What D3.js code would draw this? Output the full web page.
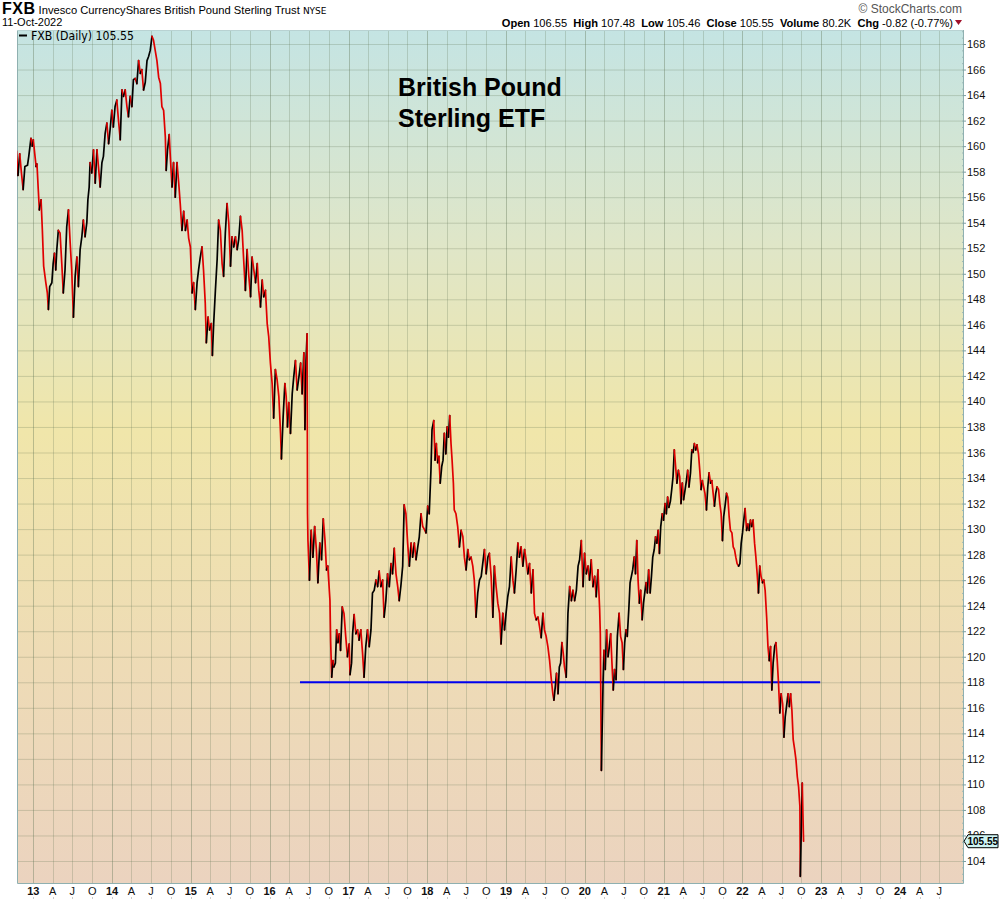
<!DOCTYPE html>
<html><head><meta charset="utf-8">
<script src="https://cdn.jsdelivr.net/npm/d3@7"></script>
<style>body{margin:0;background:#fff;} svg{display:block;font-family:"Liberation Sans",Arial,sans-serif;}</style>
</head><body><svg id="c" width="1000" height="900"></svg>
<script>
// ---- data ----
const dates = [
"2012-289","2012-296","2012-304","2012-312","2012-320","2012-328","2012-340","2012-346","2012-356","2012-362",
"2013-001","2013-009","2013-014","2013-018","2013-024","2013-029","2013-037","2013-043","2013-049","2013-059","2013-066","2013-071","2013-077","2013-087","2013-093","2013-099","2013-105","2013-110","2013-117","2013-125","2013-133","2013-140","2013-148","2013-156","2013-164","2013-172","2013-179","2013-187","2013-195","2013-203","2013-210","2013-218","2013-226","2013-233","2013-241","2013-249","2013-254","2013-260","2013-264","2013-272","2013-280","2013-288","2013-296","2013-303","2013-311","2013-319","2013-326","2013-334","2013-342","2013-350","2013-357","2013-365",
"2014-007","2014-015","2014-023","2014-031","2014-039","2014-047","2014-054","2014-062","2014-070","2014-077","2014-085","2014-093","2014-100","2014-108","2014-116","2014-124","2014-132","2014-139","2014-147","2014-155","2014-163","2014-170","2014-178","2014-186","2014-193","2014-201","2014-209","2014-217","2014-225","2014-232","2014-240","2014-248","2014-252","2014-258","2014-266","2014-271","2014-279","2014-286","2014-294","2014-302","2014-310","2014-317","2014-325","2014-333","2014-341","2014-349","2014-356","2014-364",
"2015-007","2015-014","2015-022","2015-030","2015-037","2015-045","2015-053","2015-060","2015-068","2015-073","2015-081","2015-088","2015-096","2015-101","2015-107","2015-115","2015-123","2015-130","2015-138","2015-146","2015-153","2015-161","2015-169","2015-177","2015-185","2015-192","2015-200","2015-208","2015-216","2015-223","2015-231","2015-239","2015-246","2015-254","2015-262","2015-270","2015-278","2015-285","2015-293","2015-301","2015-309","2015-316","2015-324","2015-332","2015-339","2015-347","2015-355","2015-362",
"2016-005","2016-013","2016-020","2016-028","2016-036","2016-044","2016-052","2016-056","2016-064","2016-072","2016-078","2016-084","2016-090","2016-098","2016-106","2016-113","2016-121","2016-129","2016-137","2016-145","2016-152","2016-160","2016-165","2016-170","2016-175","2016-177","2016-179","2016-186","2016-194","2016-202","2016-210","2016-218","2016-225","2016-234","2016-242","2016-250","2016-258","2016-265","2016-271","2016-281","2016-284","2016-289","2016-295","2016-299","2016-306","2016-312","2016-318","2016-324","2016-330","2016-338","2016-346","2016-354","2016-362",
"2017-004","2017-008","2017-015","2017-020","2017-027","2017-035","2017-043","2017-050","2017-058","2017-066","2017-073","2017-081","2017-089","2017-097","2017-105","2017-112","2017-120","2017-128","2017-136","2017-143","2017-151","2017-159","2017-166","2017-174","2017-182","2017-190","2017-198","2017-205","2017-213","2017-221","2017-229","2017-236","2017-244","2017-252","2017-259","2017-267","2017-275","2017-283","2017-291","2017-298","2017-306","2017-314","2017-322","2017-329","2017-337","2017-345","2017-352","2017-360",
"2018-003","2018-010","2018-018","2018-023","2018-031","2018-037","2018-043","2018-049","2018-055","2018-061","2018-068","2018-074","2018-080","2018-087","2018-093","2018-099","2018-105","2018-111","2018-116","2018-122","2018-126","2018-134","2018-142","2018-150","2018-158","2018-166","2018-173","2018-181","2018-189","2018-196","2018-204","2018-212","2018-219","2018-227","2018-235","2018-243","2018-251","2018-258","2018-266","2018-274","2018-282","2018-289","2018-297","2018-305","2018-312","2018-320","2018-328","2018-336","2018-343","2018-351","2018-359",
"2019-001","2019-009","2019-017","2019-025","2019-033","2019-040","2019-048","2019-056","2019-063","2019-071","2019-079","2019-087","2019-094","2019-102","2019-110","2019-118","2019-126","2019-133","2019-141","2019-149","2019-156","2019-164","2019-172","2019-179","2019-187","2019-195","2019-203","2019-211","2019-218","2019-223","2019-229","2019-235","2019-242","2019-248","2019-254","2019-260","2019-266","2019-272","2019-280","2019-288","2019-296","2019-304","2019-311","2019-319","2019-327","2019-335","2019-342","2019-350","2019-358","2019-365",
"2020-008","2020-016","2020-023","2020-031","2020-039","2020-047","2020-054","2020-062","2020-070","2020-073","2020-078","2020-086","2020-090","2020-096","2020-102","2020-109","2020-115","2020-121","2020-127","2020-133","2020-139","2020-146","2020-152","2020-160","2020-167","2020-174","2020-180","2020-186","2020-192","2020-198","2020-205","2020-211","2020-217","2020-223","2020-230","2020-236","2020-242","2020-248","2020-254","2020-260","2020-267","2020-273","2020-279","2020-285","2020-291","2020-297","2020-304","2020-310","2020-316","2020-323","2020-329","2020-335","2020-341","2020-347","2020-353","2020-360","2020-366",
"2021-007","2021-013","2021-019","2021-025","2021-032","2021-038","2021-044","2021-050","2021-056","2021-062","2021-069","2021-075","2021-081","2021-087","2021-093","2021-100","2021-106","2021-112","2021-118","2021-125","2021-131","2021-137","2021-143","2021-149","2021-155","2021-162","2021-168","2021-174","2021-180","2021-186","2021-192","2021-199","2021-205","2021-211","2021-218","2021-224","2021-230","2021-236","2021-242","2021-248","2021-255","2021-261","2021-267","2021-273","2021-279","2021-285","2021-292","2021-298","2021-304","2021-310","2021-317","2021-323","2021-329","2021-335","2021-341","2021-348","2021-354","2021-360",
"2022-001","2022-007","2022-013","2022-020","2022-026","2022-032","2022-038","2022-044","2022-050","2022-057","2022-063","2022-069","2022-075","2022-081","2022-087","2022-094","2022-100","2022-106","2022-113","2022-119","2022-125","2022-131","2022-137","2022-143","2022-150","2022-156","2022-162","2022-168","2022-174","2022-180","2022-187","2022-193","2022-199","2022-205","2022-212","2022-218","2022-224","2022-230","2022-236","2022-243","2022-249","2022-255","2022-261","2022-267","2022-269","2022-278","2022-281","2022-284"
];
const closes = [
159.6,157.7,159.4,157.9,156.6,158.4,158.5,159.2,160.6,160.0,
160.5,159.2,158.4,158.6,156.6,155.0,155.8,153.4,150.6,149.3,148.5,147.2,149.0,149.3,150.8,151.6,150.3,151.9,153.4,153.2,150.8,148.5,150.3,153.7,155.0,152.4,150.3,146.6,149.8,151.3,149.0,151.9,152.9,154.2,152.9,154.0,155.8,156.8,158.7,157.9,159.7,157.1,159.7,158.4,156.8,158.7,159.2,161.0,161.8,160.2,161.3,162.8,
161.5,163.1,163.6,162.0,160.5,164.4,163.9,164.4,163.1,162.3,163.9,163.1,165.2,165.3,164.9,166.7,165.7,166.0,164.4,165.0,166.7,167.0,167.5,168.6,168.3,167.5,166.7,165.4,164.9,163.1,162.8,160.7,158.1,159.7,160.9,159.2,156.8,158.7,156.0,158.7,157.1,155.5,153.4,154.9,153.4,154.2,152.8,152.1,
148.5,149.3,147.2,149.3,150.3,151.3,152.1,150.3,147.7,144.6,146.6,145.6,146.1,143.6,146.1,148.7,151.1,154.2,153.4,150.8,149.8,153.2,155.5,154.0,150.6,152.9,152.1,152.9,151.9,152.7,154.5,153.4,151.1,148.7,151.9,149.8,148.2,151.3,150.3,149.3,150.8,148.7,147.4,149.5,148.2,148.7,146.1,145.1,
143.0,141.4,138.7,142.5,141.7,140.4,137.5,135.5,138.8,141.4,140.4,138.0,139.9,137.5,140.6,141.9,143.2,140.9,141.9,143.0,140.6,143.8,137.8,143.2,145.3,131.2,129.1,126.0,129.9,127.8,130.2,128.4,125.8,128.9,127.6,130.8,129.1,126.8,127.1,124.4,121.3,118.4,119.7,119.2,119.5,122.1,121.1,121.8,120.5,123.9,123.4,121.6,120.0,
121.0,118.6,119.5,121.8,123.3,121.8,122.1,121.3,122.1,120.3,118.4,120.8,122.1,120.8,122.1,125.0,125.2,126.0,125.5,126.7,125.5,126.0,123.1,124.4,126.5,125.5,127.3,126.5,128.5,126.5,125.5,124.4,125.6,127.1,131.9,131.2,128.9,127.1,128.9,127.8,128.9,127.6,128.6,129.4,131.2,130.2,130.0,129.7,
131.8,131.2,134.6,137.8,138.5,135.4,136.7,135.2,135.7,133.6,134.9,135.4,137.5,135.9,138.0,137.2,138.9,136.7,135.4,133.6,131.5,131.2,130.2,128.6,129.9,129.4,127.8,126.8,128.4,127.6,127.8,127.1,126.0,123.1,125.0,126.0,126.3,127.3,128.4,126.5,127.8,128.1,126.3,123.1,127.1,125.5,124.2,123.4,121.0,123.4,122.1,
123.4,124.7,125.5,127.8,126.0,125.0,126.8,128.9,127.8,128.6,127.1,128.4,127.6,126.5,127.3,125.0,126.8,123.4,122.9,123.1,122.4,121.5,123.4,122.1,121.6,120.8,119.7,118.2,117.1,116.6,117.6,118.7,117.1,119.2,119.5,121.1,120.3,119.2,118.4,123.4,125.5,124.4,125.2,124.4,125.2,127.1,127.6,129.1,125.5,128.1,
126.5,127.1,126.0,127.6,125.5,126.3,124.7,126.8,123.7,121.8,111.1,118.2,120.5,119.0,122.1,120.0,120.8,121.8,119.5,117.4,119.0,118.2,121.6,123.4,121.6,121.1,119.0,121.1,122.1,121.6,123.7,125.8,126.3,126.8,127.8,126.5,129.1,126.0,124.2,125.2,122.9,124.2,125.0,125.8,125.0,126.8,125.0,126.3,127.8,128.4,129.4,128.9,129.9,128.1,130.2,131.2,130.7,
132.0,131.2,132.5,131.7,132.2,133.1,134.1,136.2,134.9,133.6,134.6,134.1,132.0,133.6,132.3,133.1,133.8,134.6,133.3,134.4,136.2,136.0,136.7,136.2,136.6,135.9,134.6,133.1,133.8,133.3,132.8,131.5,133.3,134.4,133.6,133.8,132.8,131.8,132.8,133.3,133.1,132.0,131.2,129.1,131.0,131.8,132.8,132.5,131.0,129.9,129.7,128.6,128.4,127.8,127.3,127.1,127.3,128.9,
129.7,130.7,131.6,129.9,130.4,129.9,130.7,130.2,130.7,128.9,127.8,126.5,125.0,127.1,126.3,125.8,126.0,125.2,123.1,120.8,119.7,120.8,117.4,119.5,120.8,121.1,119.7,117.9,115.6,117.1,116.3,113.7,115.3,116.1,117.1,116.1,117.1,115.8,113.5,112.7,111.9,110.6,109.8,108.3,102.8,110.1,107.7,105.55
];
const yTickValues = d3.range(104, 169, 2);
const quarterLetters = {3: "A", 6: "J", 9: "O"};
const supportLevel = 118;
const supportFrom = "2016-05-21", supportTo = "2022-12-27";
const titleLines = ["British Pound", "Sterling ETF"];
const lastClose = 105.55;
const quote = [["Open","106.55"],["High","107.48"],["Low","105.46"],["Close","105.55"],["Volume","80.2K"],["Chg","-0.82 (-0.77%)"]];

// ---- layout ----
const svg = d3.select("#c");
const P = {left: 17, right: 963, top: 30, bottom: 883};
const parse = d3.timeParse("%Y-%j");
const data = dates.map((d, i) => ({date: parse(d), v: closes[i]}));

const x = d3.scaleTime()
  .domain([new Date(2013, 0, 1), new Date(2024, 0, 1)])
  .range([33.3, 900]);
const y = d3.scaleLinear().domain([104, 168]).range([861, 44]);

// background gradient
const defs = svg.append("defs");
const g = defs.append("linearGradient").attr("id", "bg")
  .attr("x1", 0).attr("y1", 0).attr("x2", 0).attr("y2", 1);
[[0, "#c4e4e3"], [0.25, "#dfe6c8"], [0.47, "#f0e6aa"], [0.75, "#eedbb6"], [1, "#ebd3bf"]]
  .forEach(([o, c]) => g.append("stop").attr("offset", o).attr("stop-color", c));
defs.append("clipPath").attr("id", "clip").append("rect")
  .attr("x", P.left).attr("y", P.top).attr("width", P.right - P.left).attr("height", P.bottom - P.top);

svg.append("rect").attr("x", P.left).attr("y", P.top)
  .attr("width", P.right - P.left).attr("height", P.bottom - P.top).attr("fill", "url(#bg)");

// grid
const grid = svg.append("g").attr("clip-path", "url(#clip)");
grid.selectAll("line.h").data(yTickValues).join("line")
  .attr("x1", P.left).attr("x2", P.right)
  .attr("y1", d => y(d) + 0.5).attr("y2", d => y(d) + 0.5)
  .attr("stroke", "rgba(95,115,85,0.25)").attr("stroke-width", 1);
const quarters = d3.timeMonth.every(3).range(new Date(2012, 9, 1), new Date(2024, 7, 1))
  .filter(d => x(d) > P.left && x(d) < P.right);
grid.selectAll("line.v").data(quarters).join("line")
  .attr("x1", d => Math.round(x(d)) + 0.5).attr("x2", d => Math.round(x(d)) + 0.5)
  .attr("y1", P.top).attr("y2", P.bottom)
  .attr("stroke", d => d.getMonth() === 0 ? "rgba(95,115,85,0.38)" : "rgba(95,115,85,0.25)")
  .attr("stroke-width", 1);

// frame
svg.append("path")
  .attr("d", `M${P.left + 0.5},${P.top}V${P.bottom + 0.5}H${P.right + 0.5}V${P.top}`)
  .attr("fill", "none").attr("stroke", "#8fb0b0").attr("stroke-width", 1);
svg.append("line").attr("x1", P.left).attr("x2", P.right).attr("y1", P.top + 0.5).attr("y2", P.top + 0.5)
  .attr("stroke", "#b8d2d2");

// right axis
const ax = svg.append("g");
ax.selectAll("line.t").data(yTickValues).join("line")
  .attr("x1", P.right).attr("x2", P.right + 3)
  .attr("y1", d => y(d) + 0.5).attr("y2", d => y(d) + 0.5).attr("stroke", "#7d9f9f");
ax.selectAll("line.m").data(d3.range(102.5, 169.5, 0.5)).join("line")
  .attr("x1", P.right - 1).attr("x2", P.right)
  .attr("y1", d => y(d) + 0.5).attr("y2", d => y(d) + 0.5).attr("stroke", "#9fb9b9");
ax.selectAll("text").data(yTickValues).join("text")
  .attr("x", P.right + 4).attr("y", d => y(d) + 4)
  .attr("font-size", 11).attr("fill", "#111").text(d => d);

// bottom axis
const bx = svg.append("g");
bx.selectAll("text").data(quarters).join("text")
  .attr("x", d => x(d)).attr("y", 895).attr("text-anchor", "middle")
  .attr("font-size", 11).attr("fill", "#111")
  .attr("font-weight", d => d.getMonth() === 0 ? "bold" : "normal")
  .text(d => d.getMonth() === 0 ? d3.timeFormat("%y")(d) : quarterLetters[d.getMonth()]);
bx.selectAll("line").data(quarters).join("line")
  .attr("x1", d => Math.round(x(d)) + 0.5).attr("x2", d => Math.round(x(d)) + 0.5)
  .attr("y1", 897).attr("y2", 899).attr("stroke", "#ccc");

// support line
svg.append("line")
  .attr("x1", x(d3.timeParse("%Y-%m-%d")(supportFrom))).attr("x2", x(d3.timeParse("%Y-%m-%d")(supportTo)))
  .attr("y1", y(supportLevel)).attr("y2", y(supportLevel))
  .attr("stroke", "#0000ee").attr("stroke-width", 2);

// price line: black when rising, red when falling
const line = d3.line().x(d => x(d.date)).y(d => y(d.v));
const runs = [];
for (let i = 1; i < data.length; i++) {
  const up = data[i].v >= data[i - 1].v;
  const last = runs[runs.length - 1];
  if (last && last.up === up) last.pts.push(data[i]);
  else runs.push({up, pts: [data[i - 1], data[i]]});
}
svg.append("g").attr("clip-path", "url(#clip)")
  .selectAll("path").data(runs).join("path")
  .attr("d", r => line(r.pts)).attr("fill", "none")
  .attr("stroke", r => r.up ? "#000" : "#e00000")
  .attr("stroke-width", 1.7).attr("stroke-linejoin", "round").attr("stroke-linecap", "round");

// last price tag
const ly = y(lastClose);
svg.append("path")
  .attr("d", `M${P.right + 1},${ly} L${P.right + 5},${ly - 6.5} H${P.right + 35} V${ly + 6.5} H${P.right + 5} Z`)
  .attr("fill", "#cdf3f3").attr("stroke", "#000").attr("stroke-width", 1);
svg.append("text").attr("x", P.right + 4.5).attr("y", ly + 3.8)
  .attr("font-size", 10).attr("font-weight", "bold").attr("fill", "#000")
  .text(lastClose.toFixed(2));

// title annotation
svg.append("g").selectAll("text").data(titleLines).join("text")
  .attr("x", 398).attr("y", (d, i) => 96 + i * 31)
  .attr("font-size", 25).attr("font-weight", "bold").attr("fill", "#000").text(d => d);

// legend
svg.append("line").attr("x1", 19).attr("x2", 27).attr("y1", 35.5).attr("y2", 35.5)
  .attr("stroke", "#000").attr("stroke-width", 2);
svg.append("text").attr("x", 31).attr("y", 39.5).attr("font-size", 12)
  .attr("font-family", "DejaVu Sans, Verdana, sans-serif").attr("fill", "#000")
  .attr("textLength", 103).attr("lengthAdjust", "spacingAndGlyphs")
  .text(`FXB (Daily) ${lastClose.toFixed(2)}`);

// header
const h1 = svg.append("text").attr("x", 2).attr("y", 14).attr("fill", "#000");
h1.append("tspan").attr("font-size", 16).attr("font-weight", "bold").attr("letter-spacing", 0.5).text("FXB");
h1.append("tspan").attr("font-size", 11.2).text(" Invesco CurrencyShares British Pound Sterling Trust ");
h1.append("tspan").attr("font-size", 9).attr("font-family", "DejaVu Sans, Verdana, sans-serif").text("NYSE");
svg.append("text").attr("x", 2).attr("y", 26).attr("font-size", 11).attr("fill", "#000").text("11-Oct-2022");
svg.append("text").attr("x", 962).attr("y", 13).attr("text-anchor", "end")
  .attr("font-size", 12).attr("fill", "#555").text("\u00A9 StockCharts.com");
const h2 = svg.append("text").attr("x", 953).attr("y", 26.5).attr("text-anchor", "end").attr("fill", "#000")
  .style("white-space", "pre");
quote.forEach(([k, v], i) => {
  h2.append("tspan").attr("font-size", 11.1).attr("font-weight", "bold").text((i ? "  " : "") + k + " ");
  h2.append("tspan").attr("font-size", 11.1).text(v);
});
svg.append("path").attr("d", "M955,20 L962,20 L958.5,25 Z").attr("fill", "#a0102a");
</script>
</body></html>
